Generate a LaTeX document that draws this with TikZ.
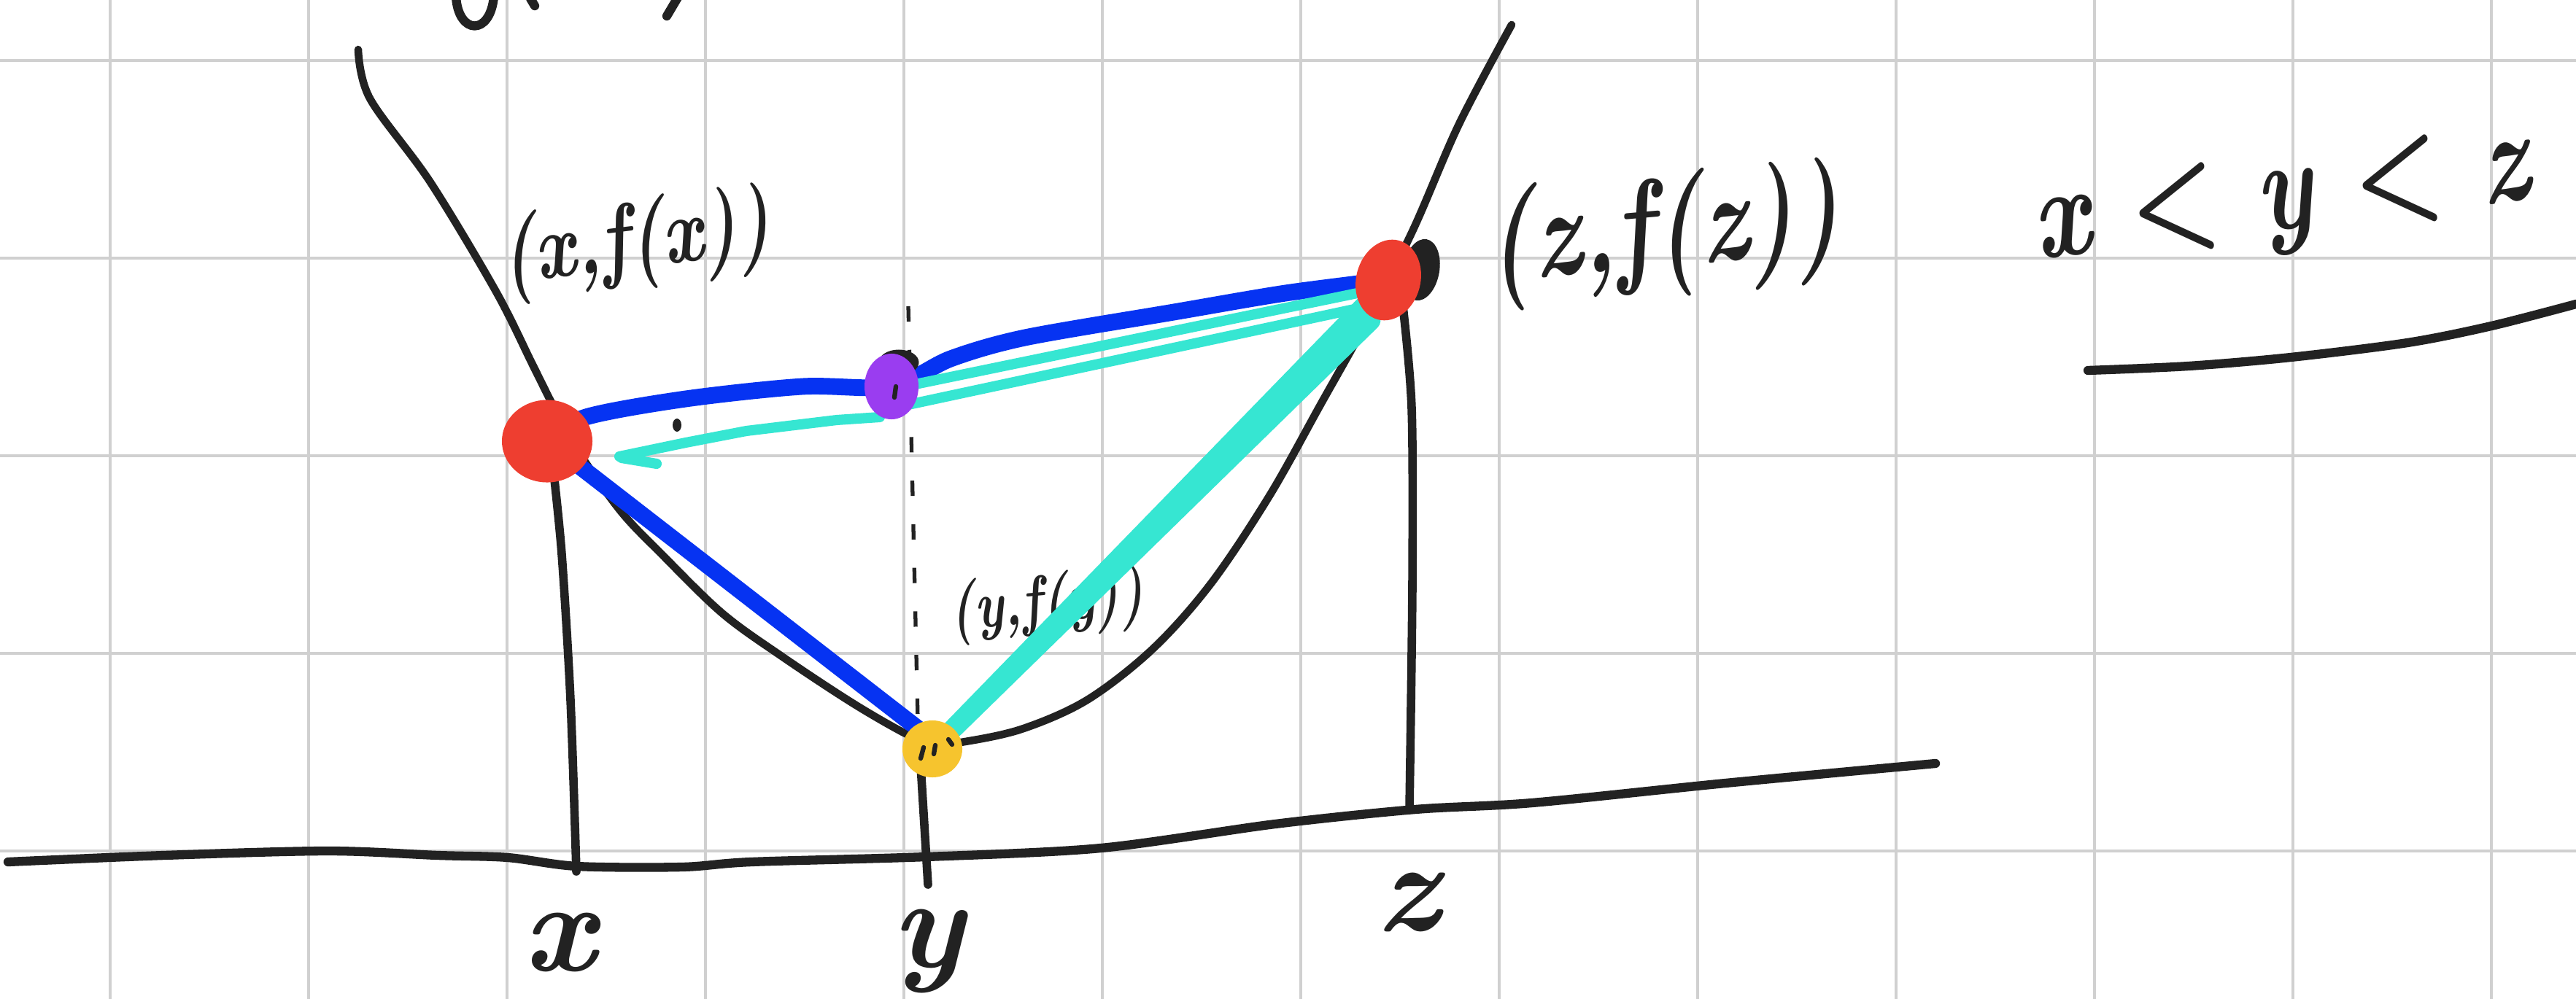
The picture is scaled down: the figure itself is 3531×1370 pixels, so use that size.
\documentclass[tikz,border=0pt]{standalone}
\usepackage{graphicx}
\usetikzlibrary{shapes.geometric}
\definecolor{ink}{HTML}{222222}
\definecolor{gridc}{HTML}{D0D0D0}
\definecolor{bl}{HTML}{0633F2}
\definecolor{cy}{HTML}{36E6D2}
\definecolor{rd}{HTML}{EE3E30}
\definecolor{pu}{HTML}{9A3DF0}
\definecolor{ye}{HTML}{F6C42E}
\newcommand\tallbox[1]{\scalebox{1}[1.3]{#1}}
\begin{document}
\begin{tikzpicture}[x=0.01cm,y=-0.01cm,
  gridline/.style={draw=gridc,line width=0.9pt},
  inkline/.style={draw=ink,line width=3pt,line cap=round,line join=round},
  blueline/.style={draw=bl,line width=6.5pt,line cap=round,line join=round},
  cyanline/.style={draw=cy,line width=4pt,line cap=round,line join=round},
  cyanthick/.style={draw=cy,line width=7pt,line cap=round},
  dotline/.style={draw=ink,line width=1.5pt,dash pattern=on 6pt off 11pt},
  dotnode/.style={ellipse,inner sep=0pt,draw=none},
  lbl/.style={text=ink,inner sep=0pt}]
\useasboundingbox (0,0) rectangle (3531,1370);
\fill[white] (0,0) rectangle (3531,1370);
% grid
\foreach \gx in {151,423,...,3415} {\draw[gridline] (\gx,0) -- (\gx,1370);}
\foreach \gy in {83,354,625,896,1167} {\draw[gridline,line width=1.1pt] (0,\gy) -- (3531,\gy);}
% fragments of text cut off at top
\draw[inkline,line width=3.5pt] (625,-5) .. controls (628,48) and (672,50) .. (677,-5);
\draw[inkline,line width=3.5pt] (727,-2) -- (733,8);
\draw[inkline,line width=3.5pt] (930,-5) -- (914,22);
% function curve
\draw[inkline] plot[smooth,tension=0.55] coordinates {(491,68) (507,135) (590,250) (680,400) (730,500) (760,560) (790,615) (850,700) (907,760) (990,841) (1073,901) (1170,965) (1245,1008) (1280,1020) (1317,1018) (1400,1000) (1490,960) (1580,890) (1660,800) (1740,680) (1810,555) (1874,440) (1937,315) (2000,170) (2072,34)};
% axis
\draw[inkline,line width=3.5pt] plot[smooth,tension=0.5] coordinates {(11,1182) (225,1173) (450,1167) (600,1173) (696,1176) (791,1188) (935,1189) (1030,1182) (1270,1175) (1509,1163) (1748,1130) (1940,1110) (2100,1101) (2365,1074) (2653,1047)};
% small curve on the right
\draw[inkline,line width=3.5pt] plot[smooth,tension=0.5] coordinates {(2862,508) (3000,502) (3140,490) (3300,470) (3415,447) (3531,417)};
% verticals
\draw[inkline,line width=3.3pt] plot[smooth] coordinates {(758,640) (770,760) (782,960) (790,1195)};
\draw[inkline,line width=3.3pt] (1262,1050) -- (1272,1213);
\draw[inkline,line width=3.3pt] plot[smooth] coordinates {(1923,420) (1935,560) (1936,800) (1932,1108)};
% dotted vertical at y
\draw[dotline] (1245,420) -- (1258,985);
% labels
\node[lbl,rotate=7,font=\fontsize{28}{32}\selectfont\bfseries\itshape] (lx) at (872,335) {\tallbox{(x,f(x))}};
\node[lbl,rotate=5,font=\fontsize{38}{42}\selectfont\bfseries\itshape] (lz) at (2280,322) {\tallbox{(z,f(z))}};
\node[lbl,rotate=5,font=\fontsize{20}{24}\selectfont\bfseries\itshape] (ly) at (1435,830) {\tallbox{(y,f(y))}};
\node[lbl,rotate=7,font=\fontsize{39}{44}\selectfont\bfseries] (ineq) at (3128,280) {\tallbox{\itshape x \upshape{<} \itshape y \upshape{<} \itshape z}};
\node[lbl,font=\fontsize{50}{54}\selectfont\bfseries\itshape] (bx) at (767,1292) {x};
\node[lbl,font=\fontsize{50}{54}\selectfont\bfseries\itshape] (by) at (1272,1305) {y};
\node[lbl,font=\fontsize{50}{54}\selectfont\bfseries\itshape] (bz) at (1930,1237) {z};
% points
\coordinate (L) at (750,605);
\coordinate (R) at (1903,384);
\coordinate (P) at (1222,530);
\coordinate (Y) at (1278,1027);
\coordinate (Ytip) at (1262,1002);
\coordinate (P1) at (1240,530);
\coordinate (P2) at (1245,555);
\coordinate (R1) at (1880,398);
\coordinate (R2) at (1875,420);
\coordinate (Y2) at (1295,1012);
\coordinate (R3) at (1880,440);
\coordinate (Pb) at (1206,572);
\coordinate (Lc) at (849,626);
% blue chords
\draw[blueline] plot[smooth,tension=0.5] coordinates {(L) (803,572) (940,547) (1100,530) (P) (1303,492) (1405,463) (1609,428) (1762,402) (R)};
\draw[blueline] (L) -- (Ytip);
% cyan chords
\draw[cyanline] (P1) -- (R1);
\draw[cyanline] (P2) -- (R2);
\draw[cyanthick] (Y) -- (R);
\draw[cyanthick] (Y2) -- (R3);
\draw[cyanline] (Pb) -- (1147,576) -- (1023,591) -- (940,607) -- (Lc);
\draw[cyanline] (852,628) -- (900,636);
% dots
\node[dotnode,fill=ink,minimum width=0.12cm,minimum height=0.18cm] (spk) at (928,583) {};
\node[dotnode,fill=ink,minimum width=0.5cm,minimum height=0.85cm,rotate=-10] (Rk) at (1948,370) {};
\node[dotnode,fill=rd,minimum width=1.24cm,minimum height=1.13cm] (Ld) at (L) {};
\node[dotnode,fill=rd,minimum width=0.88cm,minimum height=1.12cm,rotate=-15] (Rd) at (R) {};
\node[dotnode,fill=ink,minimum width=0.55cm,minimum height=0.35cm] (Pk) at (1232,497) {};
\node[dotnode,fill=pu,minimum width=0.74cm,minimum height=0.9cm] (Pd) at (P) {};
\node[dotnode,fill=ye,minimum width=0.82cm,minimum height=0.78cm] (Yd) at (Y) {};
\draw[ink,line width=1.8pt,line cap=round] (1262,1040) -- (1266,1025) (1280,1034) -- (1282,1022) (1300,1014) -- (1305,1021) (1228,530) -- (1226,545);
\end{tikzpicture}
\end{document}
